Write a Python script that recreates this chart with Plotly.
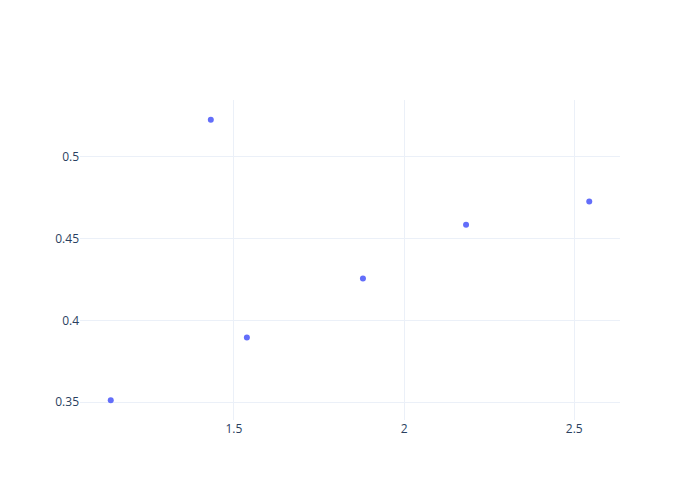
import plotly.graph_objects as go

x_values = [1.138, 1.432, 1.538, 1.879, 2.182, 2.544]
y_values = [0.3512, 0.5226, 0.3896, 0.4256, 0.4585, 0.4726]

fig = go.Figure(go.Scatter(x=x_values, y=y_values, mode="markers"))
fig.update_layout(template="plotly_white", width=700, height=500,
                  margin=dict(l=72, r=88, t=92, b=88))
fig.write_html("out.html")
